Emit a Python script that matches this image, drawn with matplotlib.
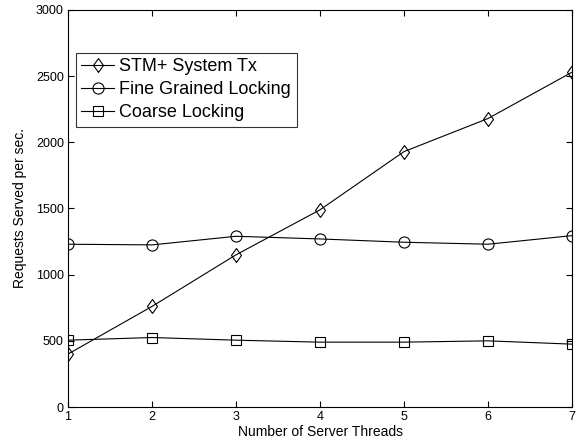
import matplotlib
matplotlib.use("Agg")
import matplotlib.pyplot as plt

plt.rcParams['font.family'] = ['Liberation Sans', 'DejaVu Sans']

threads = [1, 2, 3, 4, 5, 6, 7]
stm = [400, 760, 1150, 1490, 1930, 2180, 2530]
fine = [1230, 1225, 1290, 1270, 1245, 1230, 1295]
coarse = [505, 525, 505, 490, 490, 500, 475]
labels = ["STM+ System Tx", "Fine Grained Locking", "Coarse Locking"]

fig = plt.figure(figsize=(5.86, 4.42), dpi=100)
ax = fig.add_axes([68/586, 1-407/442, (572-68)/586, (407-10)/442])

diamond = [(0, -1), (0.72, 0), (0, 1), (-0.72, 0), (0, -1)]
common = dict(color='black', lw=0.8, markerfacecolor='none',
              markeredgecolor='black', markeredgewidth=0.8)
ax.plot(threads, stm, marker=diamond, markersize=10, label=labels[0], **common)
ax.plot(threads, fine, marker='o', markersize=8, label=labels[1], **common)
ax.plot(threads, coarse, marker='s', markersize=7.3, label=labels[2], **common)

ax.set_xlim(1, 7)
ax.set_ylim(0, 3000)
ax.set_xticks(threads)
ax.set_yticks(range(0, 3001, 500))
ax.tick_params(direction='in', top=True, right=True, labelsize=9, length=4, width=0.8, pad=3)
for s in ax.spines.values():
    s.set_linewidth(0.8)
ax.set_xlabel("Number of Server Threads", fontsize=10, labelpad=1)
ax.set_ylabel("Requests Served per sec.", fontsize=10, labelpad=6)

leg = ax.legend(loc='upper left', bbox_to_anchor=(8/504, 1-43/397), fontsize=13,
                frameon=True, fancybox=False, edgecolor='black', borderpad=0.3,
                labelspacing=0.33, handlelength=1.8, handletextpad=0.3, borderaxespad=0)
leg.get_frame().set_linewidth(0.8)

fig.savefig("out.png", dpi=100)
